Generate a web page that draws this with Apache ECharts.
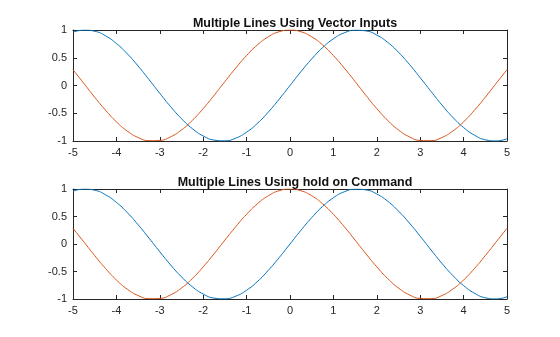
<!DOCTYPE html>
<html><head><meta charset="utf-8">
<script src="https://cdn.jsdelivr.net/npm/echarts@6/dist/echarts.min.js"></script>
<style>html,body{margin:0;padding:0;background:#fff}#c{width:560px;height:337px}</style>
</head><body><div id="c"></div>
<script>
const xValues = [-5,-4.75,-4.5,-4.25,-4,-3.75,-3.5,-3.25,-3,-2.75,-2.5,-2.25,-2,-1.75,-1.5,-1.25,-1,-0.75,-0.5,-0.25,0,0.25,0.5,0.75,1,1.25,1.5,1.75,2,2.25,2.5,2.75,3,3.25,3.5,3.75,4,4.25,4.5,4.75,5];
const blueValues = [0.959,0.999,0.978,0.895,0.757,0.572,0.351,0.108,-0.141,-0.382,-0.598,-0.778,-0.909,-0.984,-0.997,-0.949,-0.841,-0.682,-0.479,-0.247,0,0.247,0.479,0.682,0.841,0.949,0.997,0.984,0.909,0.778,0.598,0.382,0.141,-0.108,-0.351,-0.572,-0.757,-0.895,-0.978,-0.999,-0.959];
const orangeValues = [0.284,0.038,-0.211,-0.446,-0.654,-0.821,-0.937,-0.994,-0.990,-0.924,-0.801,-0.628,-0.416,-0.178,0.071,0.315,0.540,0.732,0.878,0.969,1,0.969,0.878,0.732,0.540,0.315,0.071,-0.178,-0.416,-0.628,-0.801,-0.924,-0.990,-0.994,-0.937,-0.821,-0.654,-0.446,-0.211,0.038,0.284];
const titles = ['Multiple Lines Using Vector Inputs','Multiple Lines Using hold on Command'];
const xTicks = [-5,-4,-3,-2,-1,0,1,2,3,4,5];
const yTicks = [-1,-0.5,0,0.5,1];

const axisColor = '#262626';
const font = 'Liberation Sans, Arial, Helvetica, sans-serif';
const grids = [
  {left:73, right:53, top:30, height:111},
  {left:73, right:53, top:189, height:110}
];
const xAxes = [], yAxes = [], series = [], titleArr = [];
grids.forEach((g, i) => {
  const common = {
    gridIndex: i, min: xTicks[0], max: xTicks[xTicks.length-1], interval: 1, type: 'value',
    axisLine: {show: true, onZero: false, lineStyle: {color: axisColor, width: 1}},
    axisTick: {show: true, inside: true, length: 4, lineStyle: {color: axisColor}},
    splitLine: {show: false}
  };
  xAxes.push(Object.assign({}, common, {position: 'bottom',
    axisLabel: {show: true, color: axisColor, fontSize: 11, fontFamily: font, margin: 6}}));
  xAxes.push(Object.assign({}, common, {position: 'top', axisLabel: {show: false}}));
  const ycommon = {
    gridIndex: i, min: yTicks[0], max: yTicks[yTicks.length-1], interval: 0.5, type: 'value',
    axisLine: {show: true, onZero: false, lineStyle: {color: axisColor, width: 1}},
    axisTick: {show: true, inside: true, length: 4, lineStyle: {color: axisColor}},
    splitLine: {show: false}
  };
  yAxes.push(Object.assign({}, ycommon, {position: 'left',
    axisLabel: {show: true, color: axisColor, fontSize: 11, fontFamily: font, margin: 6}}));
  yAxes.push(Object.assign({}, ycommon, {position: 'right', axisLabel: {show: false}}));
  titleArr.push({text: titles[i], left: 290, top: i === 0 ? 12 : 171, textAlign: 'center',
    textStyle: {fontSize: 12.5, fontWeight: 'bold', color: '#111', fontFamily: font}});
  const mk = (vals, color) => ({
    type: 'line', xAxisIndex: i*2, yAxisIndex: i*2, showSymbol: false, smooth: true,
    data: xValues.map((x, k) => [x, vals[k]]),
    lineStyle: {color: color, width: 1}, itemStyle: {color: color}, animation: false
  });
  series.push(mk(blueValues, '#0072BD'));
  series.push(mk(orangeValues, '#D95319'));
});
const chart = echarts.init(document.getElementById('c'), null, {renderer: 'canvas'});
chart.setOption({
  animation: false,
  backgroundColor: '#fff',
  title: titleArr,
  grid: grids,
  xAxis: xAxes,
  yAxis: yAxes,
  series: series
});
</script></body></html>
